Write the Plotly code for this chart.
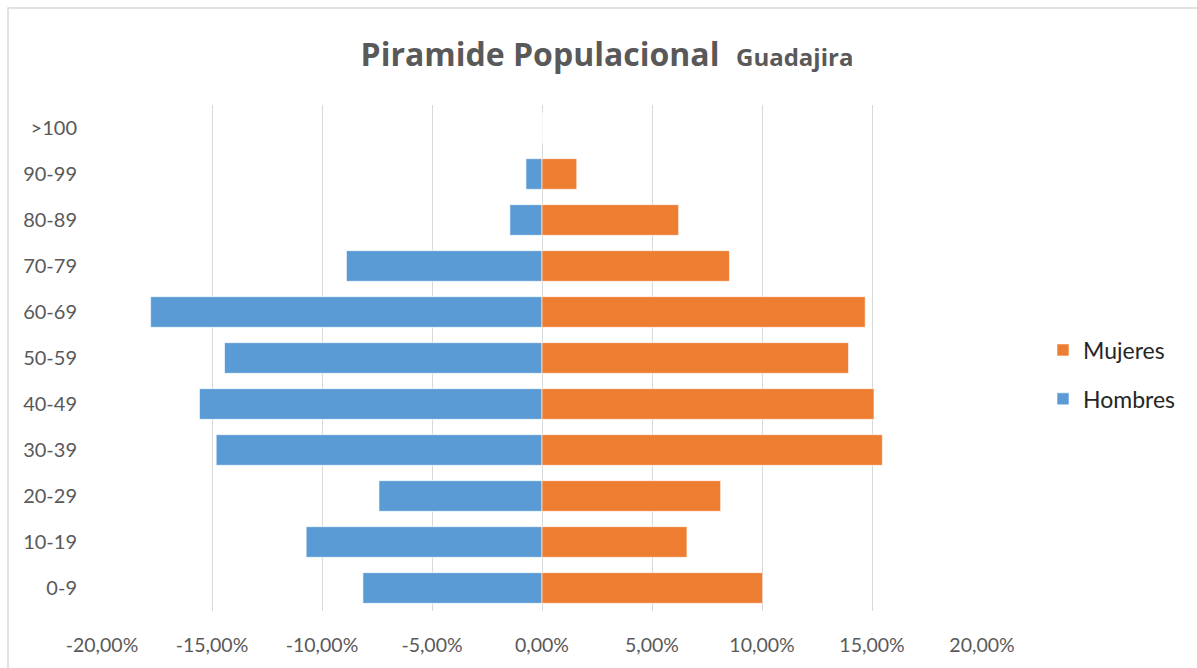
import plotly.graph_objects as go

categories = ["0-9", "10-19", "20-29", "30-39", "40-49", "50-59", "60-69", "70-79", "80-89", "90-99", ">100"]
hombres = [8.14, 10.72, 7.41, 14.81, 15.57, 14.43, 17.79, 8.89, 1.46, 0.73, 0.0]
mujeres = [10.03, 6.59, 8.12, 15.47, 15.09, 13.93, 14.69, 8.52, 6.21, 1.58, 0.0]
x_tickvals = [-20, -15, -10, -5, 0, 5, 10, 15, 20]
x_ticktext = ["-20,00%", "-15,00%", "-10,00%", "-5,00%", "0,00%", "5,00%", "10,00%", "15,00%", "20,00%"]

FONT = "Lato, 'Open Sans', sans-serif"
TITLE_FONT = "'Open Sans', sans-serif"

fig = go.Figure()
fig.add_trace(go.Bar(
    y=categories, x=[-v for v in hombres], orientation="h", name="Hombres",
    legendgroup="h", legendrank=2,
    marker=dict(color="#5B9BD5", line=dict(color="rgba(255,255,255,0.6)", width=1)),
))
fig.add_trace(go.Bar(
    y=categories, x=mujeres, orientation="h", name="Mujeres",
    legendgroup="m", legendrank=1,
    marker=dict(color="#ED7D31", line=dict(color="rgba(255,255,255,0.6)", width=1)),
))

fig.update_layout(
    width=1197, height=668,
    barmode="relative", bargap=0.333,
    paper_bgcolor="white", plot_bgcolor="white",
    margin=dict(l=102, r=215, t=105, b=57),
    font=dict(family=FONT, color="#595959", size=18),
    title=dict(
        text="<b>Piramide Populacional</b>  <b><span style='font-size:24px'>Guadajira</span></b>",
        x=607/1197, xanchor="center", xref="container",
        y=1-55/668, yanchor="middle", yref="container",
        font=dict(family=TITLE_FONT, size=32, color="#595959"),
    ),
    xaxis=dict(
        range=[-20, 20], tickvals=x_tickvals, ticktext=x_ticktext,
        showgrid=True, gridcolor="#D9D9D9", gridwidth=1,
        zeroline=True, zerolinecolor="#D9D9D9", zerolinewidth=1,
        showline=False, ticks="outside", ticklen=17, tickcolor="rgba(0,0,0,0)",
        tickfont=dict(size=19.5, color="#595959"), fixedrange=True,
    ),
    yaxis=dict(
        categoryorder="array", categoryarray=categories,
        showgrid=False, zeroline=False, showline=False,
        ticks="outside", ticklen=20, tickcolor="rgba(0,0,0,0)",
        tickfont=dict(size=20, color="#595959"),
    ),
    legend=dict(
        traceorder="grouped", tracegroupgap=16,
        x=(1043-102)/880, xanchor="left", y=(611-374.5)/506, yanchor="middle",
        font=dict(size=23, color="#262626"), itemwidth=30,
        bgcolor="rgba(0,0,0,0)",
    ),
    showlegend=True,
)

pw, ph = 880, 506
fig.add_shape(type="rect", xref="paper", yref="paper",
              x0=(8-102)/pw, x1=(1300-102)/pw, y0=-(700-611)/ph, y1=1+(105-8)/ph,
              line=dict(color="#D9D9D9", width=1.5), layer="below")

fig.write_html("out.html")
